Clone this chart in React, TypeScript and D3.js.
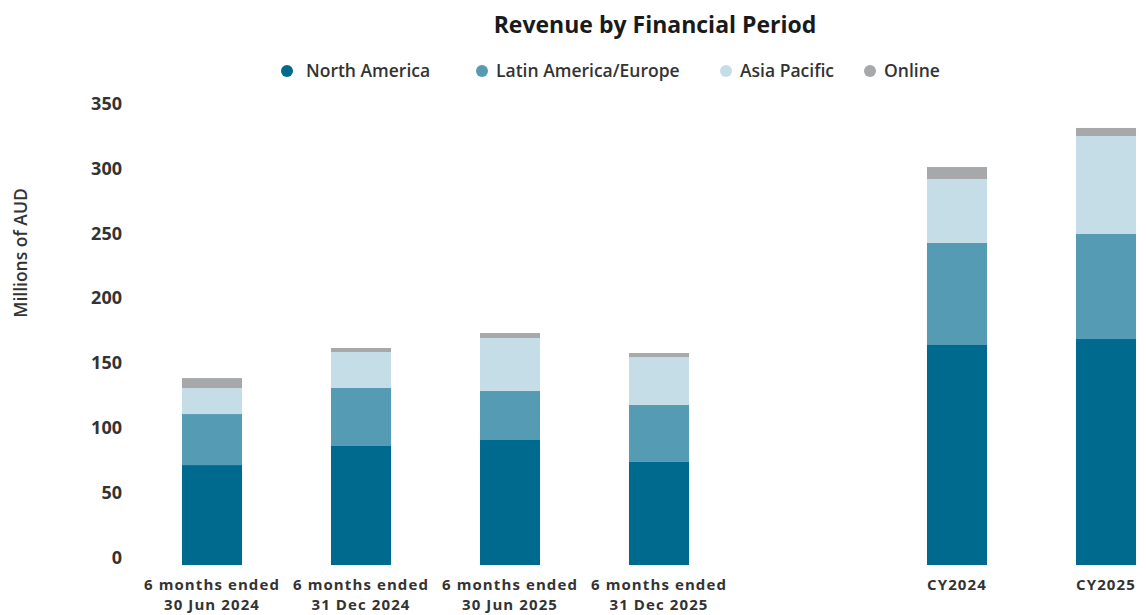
import React from "react";
import * as d3 from "d3";

const categories = ["6 months ended|30 Jun 2024", "6 months ended|31 Dec 2024", "6 months ended|30 Jun 2025", "6 months ended|31 Dec 2025", "", "CY2024", "CY2025"];
const seriesNames = ["North America", "Latin America/Europe", "Asia Pacific", "Online"];
const northAmerica = [77.0, 91.7, 96.3, 79.4, 0, 169.5, 174.1];
const latamEurope = [39.3, 44.7, 37.8, 43.9, 0, 78.6, 80.9];
const asiaPacific = [20.0, 27.7, 40.8, 36.9, 0, 49.3, 75.5];
const online = [7.7, 3.1, 3.8, 3.1, 0, 9.2, 6.2];
const yTicks = [0, 50, 100, 150, 200, 250, 300, 350];
const colors = ["#006A8E", "#559BB4", "#C5DDE6", "#A7A8AA"];

const W = 1146;
const H = 615;
const FONT = "'Open Sans', Lato, sans-serif";

export default function App() {
  const x = d3.scaleBand<string>().domain(categories.map((c, i) => i + ":" + c)).range([137.5, 1180.5]).paddingInner(0.597).paddingOuter(0.2985);
  const y = d3.scaleLinear().domain([0, 350]).range([565, 110.7]);
  const rows = categories.map((c, i) => ({ key: i + ":" + c, na: northAmerica[i], la: latamEurope[i], ap: asiaPacific[i], on: online[i] }));
  const stack = d3.stack<any>().keys(["na", "la", "ap", "on"])(rows);
  const legendCx = [287, 482, 726, 870];
  const legendTx = [306, 496, 740, 884];

  return (
    <svg width={W} height={H} style={{ position: "absolute", left: 0, top: 0, background: "#fff" }} fontFamily={FONT}>
      <text x={655} y={33} textAnchor="middle" fontSize={23} fontWeight={700} fill="#1a1a1a">Revenue by Financial Period</text>
      {seriesNames.map((s, i) => (
        <g key={s}>
          <circle cx={legendCx[i]} cy={71} r={6} fill={colors[i]} />
          <text x={legendTx[i]} y={77} fontSize={17.5} fontWeight={600} fill="#333">{s}</text>
        </g>
      ))}
      <text transform="translate(27,253) rotate(-90)" textAnchor="middle" fontSize={17.5} fontWeight={600} fill="#333">Millions of AUD</text>
      {yTicks.map((t) => (
        <text key={t} x={122} y={y(t) - 1} textAnchor="end" fontSize={18} fontWeight={700} fill="#333">{t}</text>
      ))}
      {stack.map((layer, li) => (
        <g key={li} fill={colors[li]}>
          {layer.map((d, i) => {
            const h = y(d[0]) - y(d[1]);
            if (h <= 0) return null;
            return <rect key={i} x={x(rows[i].key)} y={y(d[1])} width={x.bandwidth()} height={h} />;
          })}
        </g>
      ))}
      {categories.map((c, i) => {
        if (!c) return null;
        const cx = (x(i + ":" + c) as number) + x.bandwidth() / 2;
        const lines = c.split("|");
        return (
          <g key={i}>
            {lines.map((l, j) => (
              <text key={j} x={cx} y={590 + j * 20} textAnchor="middle" fontSize={15} letterSpacing={1.1} fontWeight={700} fill="#333">{l}</text>
            ))}
          </g>
        );
      })}
    </svg>
  );
}
